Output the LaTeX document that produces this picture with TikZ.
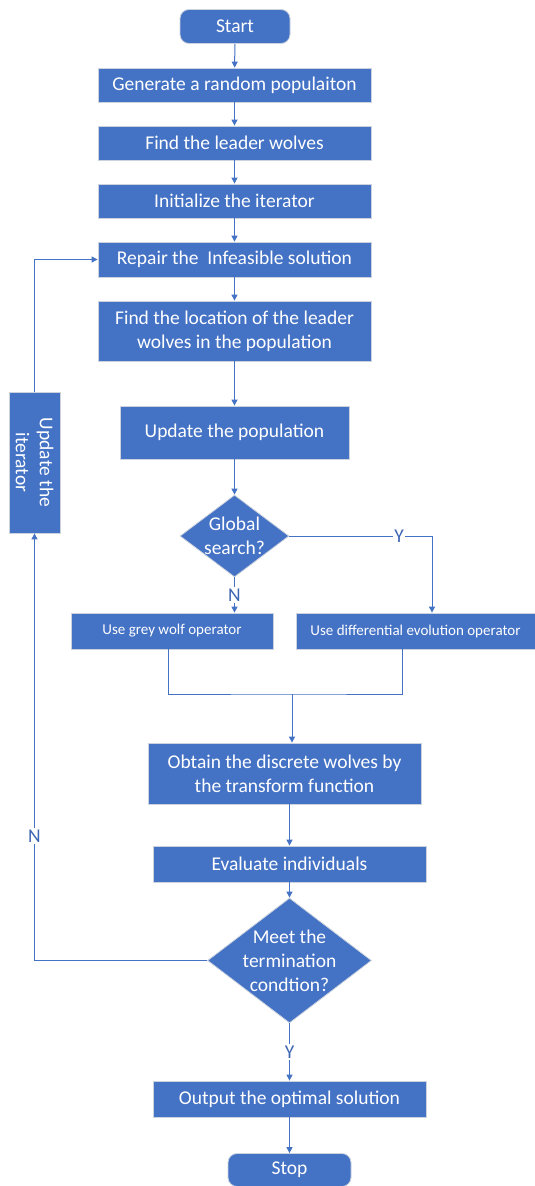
\documentclass[tikz,border=0pt]{standalone}
\usepackage{fontspec}
\setmainfont{Carlito}
\usetikzlibrary{arrows.meta,shapes.geometric}
\definecolor{bl}{HTML}{4472C4}
\definecolor{bd}{HTML}{CDD3DE}
\definecolor{lb}{HTML}{3F66B4}
\begin{document}
\begin{tikzpicture}[x=1pt,y=-1pt,
  mainfont/.style={font=\fontsize{19.5pt}{24pt}\selectfont},
  box/.style={rectangle, fill=bl, draw=bd, line width=0.8pt, text=white, mainfont, align=center, inner sep=0pt},
  smallbox/.style={box, font=\fontsize{15pt}{18pt}\selectfont},
  term/.style={box, rounded corners=9pt},
  dia/.style={diamond, fill=bl, draw=bd, line width=0.8pt, inner sep=0pt},
  wtext/.style={text=white, mainfont, align=center, inner sep=0pt},
  conn/.style={draw=bl, line width=1pt},
  arr/.style={conn, -{Triangle[length=6pt,width=6pt]}},
  lab/.style={fill=white, text=lb, mainfont, inner sep=1.5pt}]
\useasboundingbox (0,0) rectangle (535,1186);
\fill[white] (0,0) rectangle (535,1186);

\node[term, minimum width=110pt, minimum height=34pt] (start) at (235,26.5) {Start};
\node[box, minimum width=273pt, minimum height=34pt] (gen) at (234.5,85) {Generate a random populaiton};
\node[box, minimum width=273pt, minimum height=34pt] (lead) at (234.5,143) {Find the leader wolves};
\node[box, minimum width=273pt, minimum height=34pt] (init) at (234.5,201) {Initialize the iterator};
\node[box, minimum width=273pt, minimum height=35pt] (rep) at (234.5,259.5) {Repair the\ \ Infeasible solution};
\node[box, minimum width=273pt, minimum height=60pt] (loc) at (234.5,331) {Find the location of the leader\\wolves in the population};
\node[box, minimum width=229pt, minimum height=53pt] (upd) at (234.5,432.5) {Update the population};
\node[box, minimum width=51pt, minimum height=141pt] (iter) at (34.5,462.5) {};
\node[wtext, rotate=-90] (itertxt) at (iter) {Update the\\iterator};
\node[dia, minimum width=109pt, minimum height=82pt] (glob) at (234.5,536) {};
\node[wtext] (globtxt) at (glob) {Global\\search?};
\node[smallbox, minimum width=202pt, minimum height=36pt] (grey) at (172,631) {Use grey wolf operator};
\node[smallbox, minimum width=239pt, minimum height=36pt] (diff) at (415.5,631) {Use differential evolution operator};
\node[box, minimum width=273pt, minimum height=61pt] (obt) at (284.5,773.5) {Obtain the discrete wolves by\\the transform function};
\node[box, minimum width=273pt, minimum height=36pt] (eval) at (289.5,864) {Evaluate individuals};
\node[dia, minimum width=164pt, minimum height=125pt] (meet) at (289.5,960.5) {};
\node[wtext] (meettxt) at (meet) {Meet the\\termination\\condtion?};
\node[box, minimum width=273pt, minimum height=36pt] (out) at (289.5,1099) {Output the optimal solution};
\node[term, minimum width=123pt, minimum height=33pt] (stop) at (289.5,1170) {Stop};

\coordinate (j) at (292,694);

\draw[arr] (start) -- (gen);
\draw[arr] (gen) -- (lead);
\draw[arr] (lead) -- (init);
\draw[arr] (init) -- (rep);
\draw[arr] (rep) -- (loc);
\draw[arr] (loc) -- (upd);
\draw[arr] (upd) -- (glob);
\draw[arr] (glob.south) -- node[lab]{N} (glob.south |- grey.north);
\draw[arr] (glob.east) -| node[lab, pos=0.385]{Y} ([xshift=16.5pt]diff.north);
\draw[conn] ([xshift=-4pt]grey.south) |- (j) -| ([xshift=-13.5pt]diff.south);
\draw[arr] (j) -- (j |- obt.north);
\draw[arr] (eval.north |- obt.south) -- (eval.north);
\draw[arr] (eval) -- (meet);
\draw[arr] (meet.south) -- node[lab]{Y} (out.north);
\draw[arr] (out) -- (stop);
\draw[arr] (meet.west) -| node[lab, pos=0.646]{N} (iter.south);
\draw[arr] (iter.north) |- (rep.west);
\end{tikzpicture}
\end{document}
